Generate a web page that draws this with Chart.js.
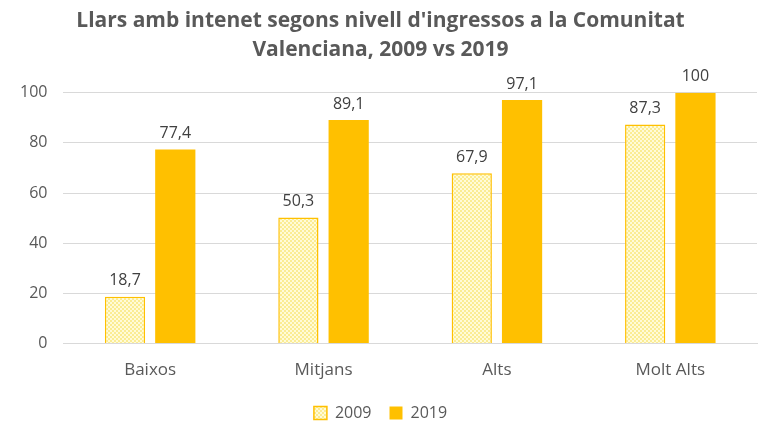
<!DOCTYPE html>
<html>
<head>
<meta charset="utf-8">
<script src="https://cdn.jsdelivr.net/npm/chart.js@4/dist/chart.umd.min.js"></script>
<style>
  html, body { margin: 0; padding: 0; background: #fff; }
  #wrap { width: 771px; height: 425px; }
</style>
</head>
<body>
<div id="wrap"><canvas id="chart" width="771" height="425"></canvas></div>
<script>
var titleLines = ["Llars amb intenet segons nivell d'ingressos a la Comunitat", "Valenciana, 2009 vs 2019"];
var categories = ["Baixos", "Mitjans", "Alts", "Molt Alts"];
var values2009 = [18.7, 50.3, 67.9, 87.3];
var values2019 = [77.4, 89.1, 97.1, 100];
var yTicks = [0, 20, 40, 60, 80, 100];

var fontFam = "'Open Sans', sans-serif";
var textColor = "#595959";

function makePattern() {
    var c = document.createElement("canvas");
    c.width = 4; c.height = 4;
    var x = c.getContext("2d");
    x.fillStyle = "#FBEC93";
    x.fillRect(0, 0, 4, 4);
    x.fillStyle = "#FFFBD8";
    x.fillRect(0, 0, 2, 2);
    x.fillRect(2, 2, 2, 2);
    return x.createPattern(c, "repeat");
}

function fmt(v) {
    return String(v).replace(".", ",");
}

var barLabels = {
    id: "barLabels",
    afterDatasetsDraw: function (chart) {
        var ctx = chart.ctx;
        ctx.save();
        ctx.font = "16px " + fontFam;
        ctx.fillStyle = "#404040";
        ctx.textAlign = "center";
        ctx.textBaseline = "bottom";
        chart.data.datasets.forEach(function (ds, i) {
            chart.getDatasetMeta(i).data.forEach(function (bar, j) {
                ctx.fillText(fmt(ds.data[j]), bar.x, bar.y - 8);
            });
        });
        ctx.restore();
    }
};

var pattern = makePattern();

new Chart(document.getElementById("chart"), {
    type: "bar",
    data: {
        labels: categories,
        datasets: [
            {
                label: "2009",
                data: values2009,
                backgroundColor: pattern,
                borderColor: "#FFC000",
                borderWidth: 1.5,
                barPercentage: 0.8,
                categoryPercentage: 0.58
            },
            {
                label: "2019",
                data: values2019,
                backgroundColor: "#FFC000",
                borderColor: "#FFC000",
                borderWidth: 0,
                barPercentage: 0.8,
                categoryPercentage: 0.58
            }
        ]
    },
    options: {
        responsive: false,
        animation: false,
        layout: { padding: { left: 4, right: 14, top: 5, bottom: -6 } },
        plugins: {
            title: {
                display: true,
                text: titleLines,
                color: textColor,
                font: { family: fontFam, size: 21, weight: "bold", lineHeight: 1.35 },
                padding: { top: 2, bottom: 29 }
            },
            legend: {
                position: "bottom",
                labels: {
                    color: textColor,
                    font: { family: fontFam, size: 16 },
                    boxWidth: 13,
                    boxHeight: 13,
                    padding: 18
                }
            },
            tooltip: { enabled: false }
        },
        scales: {
            x: {
                grid: { display: false },
                border: { display: true, color: "#d9d9d9" },
                ticks: { color: textColor, font: { family: fontFam, size: 17 }, padding: 8 },
                afterFit: function (scale) { scale.height -= 1; }
            },
            y: {
                min: 0,
                max: 100,
                afterBuildTicks: function (axis) {
                    axis.ticks = yTicks.map(function (v) { return { value: v }; });
                },
                grid: { color: "#d9d9d9", drawTicks: false },
                border: { display: false },
                ticks: { color: textColor, font: { family: fontFam, size: 16 }, padding: 16 }
            }
        }
    },
    plugins: [barLabels]
});
</script>
</body>
</html>
